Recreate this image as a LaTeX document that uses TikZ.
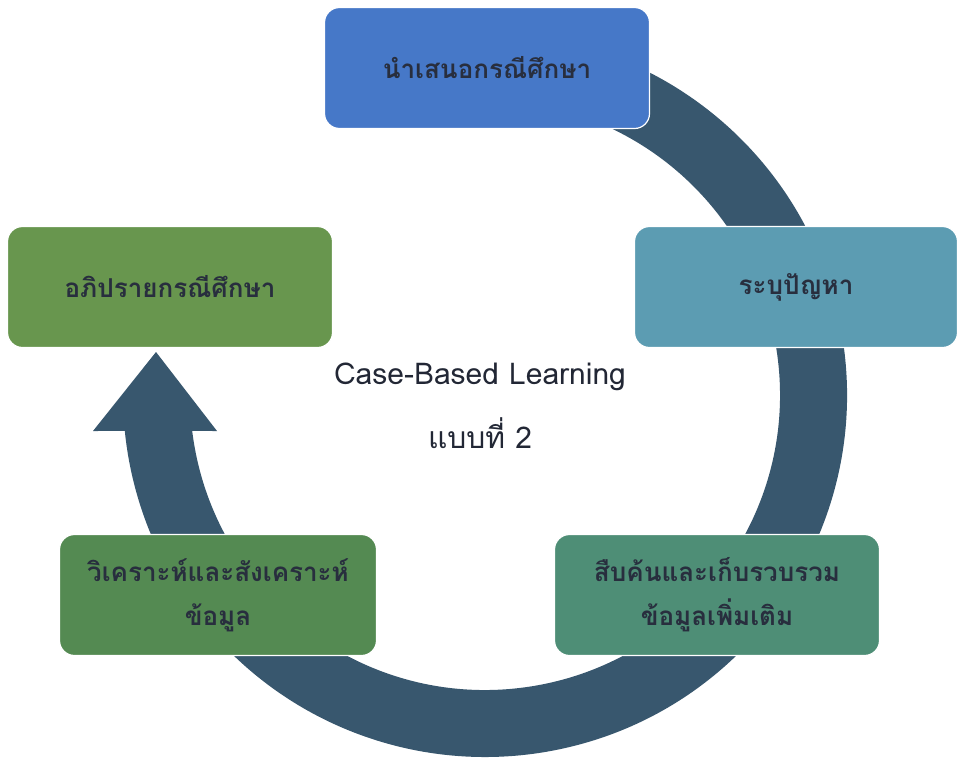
\documentclass[tikz,border=0pt]{standalone}
\usepackage{fontspec}
\usetikzlibrary{calc}
\newfontfamily\thaifont[Script=Thai]{Loma}
\definecolor{ringcol}{RGB}{56,87,110}
\definecolor{txtcol}{RGB}{40,46,62}
\definecolor{boxA}{RGB}{70,120,200}
\definecolor{boxB}{RGB}{92,156,178}
\definecolor{boxC}{RGB}{78,142,118}
\definecolor{boxD}{RGB}{84,138,82}
\definecolor{boxE}{RGB}{104,150,78}
\begin{document}
\begin{tikzpicture}[x=1pt,y=-1pt,
  stage/.style={rounded corners=15pt, draw=white, line width=1.2pt,
    minimum width=325pt, minimum height=121pt, inner sep=0pt,
    align=center, text=txtcol,
    font=\thaifont\bfseries\fontsize{26}{44}\selectfont},
  caption/.style={text=txtcol!85!black, inner sep=0pt,
    font=\thaifont\fontsize{30}{34}\selectfont}]
\useasboundingbox (0,0) rectangle (960,758);
\fill[white] (0,0) rectangle (960,758);

% cycle arrow running clockwise behind the stages
\coordinate (c) at (485,395);
\coordinate (headL) at (93,431);
\coordinate (tip) at (156,352);
\coordinate (headR) at (217,431);
\fill[ringcol] ($(c)+(-100:362)$) arc[start angle=-100, end angle=174.3, radius=362]
  -- (headL) -- (tip) -- (headR)
  -- ($(c)+(173:295)$) arc[start angle=173, end angle=-100, radius=295] -- cycle;

% stages
\node[stage, fill=boxA] (present) at (487,68) {นำเสนอกรณีศึกษา};
\node[stage, fill=boxB, minimum width=323pt] (identify) at (796,287) {ระบุปัญหา};
\node[stage, fill=boxC] (inquire) at (717,595) {สืบค้นและเก็บรวบรวม\\ข้อมูลเพิ่มเติม};
\node[stage, fill=boxD, minimum width=317pt] (analyse) at (218,595) {วิเคราะห์และสังเคราะห์\\ข้อมูล};
\node[stage, fill=boxE] (discuss) at (170,287) {อภิปรายกรณีศึกษา};

% title in the middle
\node[caption] (title) at (480,377) {Case-Based Learning};
\node[caption] (subtitle) at (480,433) {แบบที่ 2};
\end{tikzpicture}
\end{document}
